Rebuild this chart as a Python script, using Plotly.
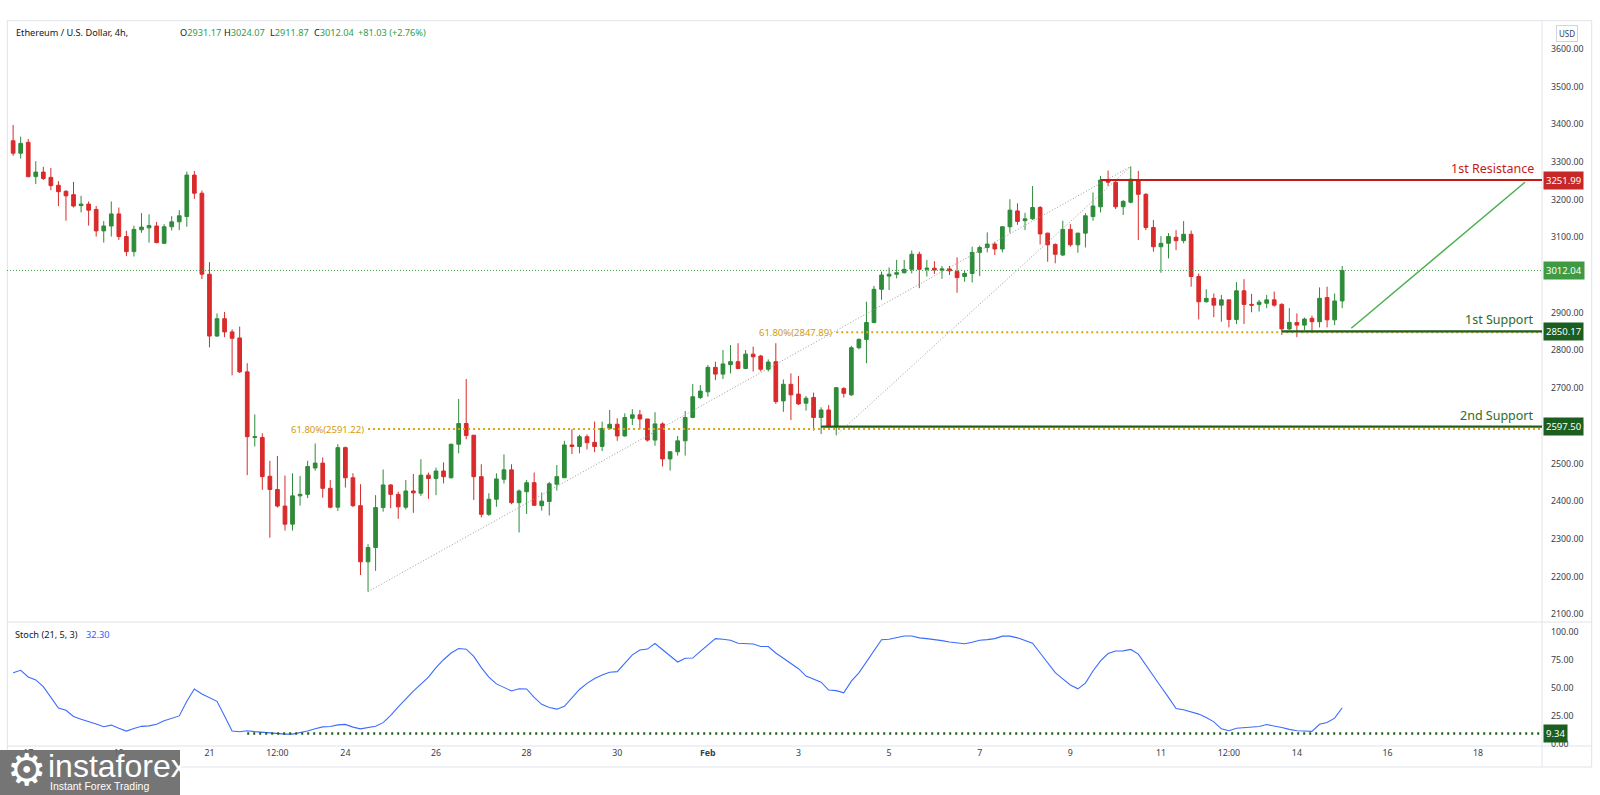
import pandas as pd
import plotly.graph_objects as go

# ---------------- data ----------------
first_candle = "2022-01-16 16:00"   # 4h candles, ETH/USD

opens = [3356, 3323, 3352, 3261, 3273, 3259, 3238, 3222, 3213, 3184,
         3188, 3174, 3117, 3130, 3162, 3102, 3062, 3120, 3125, 3130,
         3084, 3128, 3141, 3155, 3265, 3217, 3002, 2838, 2884, 2849,
         2833, 2743, 2569, 2569, 2466, 2431, 2387, 2339, 2414, 2418,
         2488, 2501, 2434, 2384, 2542, 2462, 2388, 2239, 2277, 2383,
         2443, 2418, 2384, 2427, 2421, 2469, 2460, 2480, 2462, 2551,
         2606, 2575, 2465, 2365, 2405, 2458, 2483, 2396, 2425, 2449,
         2388, 2399, 2445, 2462, 2549, 2545, 2571, 2556, 2545, 2593,
         2604, 2573, 2620, 2629, 2618, 2562, 2605, 2512, 2531, 2560,
         2622, 2675, 2690, 2755, 2737, 2762, 2770, 2752, 2790, 2785,
         2750, 2770, 2666, 2710, 2684, 2660, 2675, 2622, 2642, 2598,
         2699, 2682, 2807, 2829, 2874, 2962, 2997, 3002, 3006, 3015,
         3055, 3015, 3018, 3013, 3016, 3009, 2996, 3004, 3060, 3073,
         3082, 3069, 3128, 3170, 3144, 3149, 3179, 3111, 3081, 3053,
         3121, 3080, 3111, 3155, 3181, 3252, 3246, 3181, 3193, 3252,
         3214, 3126, 3075, 3084, 3100, 3091, 3108, 2996, 2929, 2938,
         2920, 2934, 2882, 2958, 2922, 2922, 2925, 2934, 2922, 2857,
         2874, 2867, 2885, 2876, 2940, 2881, 2931.17]
highs = [3398, 3367, 3361, 3302, 3287, 3284, 3249, 3225, 3247, 3210,
         3195, 3183, 3143, 3195, 3179, 3117, 3131, 3164, 3161, 3141,
         3135, 3156, 3172, 3274, 3276, 3224, 3034, 2898, 2902, 2856,
         2863, 2766, 2630, 2580, 2507, 2520, 2468, 2474, 2467, 2507,
         2553, 2516, 2456, 2551, 2545, 2474, 2445, 2286, 2416, 2484,
         2445, 2425, 2456, 2472, 2511, 2476, 2489, 2503, 2552, 2671,
         2724, 2575, 2498, 2421, 2474, 2524, 2498, 2431, 2456, 2476,
         2423, 2451, 2496, 2560, 2591, 2576, 2577, 2611, 2611, 2642,
         2620, 2633, 2644, 2642, 2618, 2636, 2609, 2533, 2573, 2639,
         2711, 2708, 2761, 2770, 2801, 2814, 2819, 2801, 2810, 2788,
         2776, 2819, 2723, 2739, 2732, 2679, 2688, 2649, 2655, 2703,
         2702, 2812, 2832, 2929, 2971, 3009, 3020, 3040, 3040, 3065,
         3062, 3040, 3037, 3024, 3024, 3047, 3011, 3075, 3078, 3113,
         3088, 3129, 3201, 3190, 3165, 3236, 3183, 3112, 3084, 3144,
         3135, 3112, 3164, 3219, 3263, 3277, 3254, 3199, 3288, 3276,
         3217, 3146, 3103, 3111, 3119, 3143, 3118, 3004, 2962, 2951,
         2947, 2934, 2981, 2989, 2950, 2934, 2947, 2956, 2925, 2912,
         2898, 2887, 2892, 2967, 2969, 2951, 3024.07]
lows = [3316, 3309, 3259, 3241, 3252, 3225, 3183, 3144, 3179, 3166,
        3131, 3102, 3086, 3102, 3093, 3050, 3049, 3112, 3086, 3084,
        3082, 3118, 3119, 3128, 3202, 2989, 2808, 2836, 2835, 2734,
        2740, 2469, 2545, 2430, 2303, 2383, 2322, 2322, 2388, 2408,
        2481, 2409, 2381, 2374, 2436, 2384, 2204, 2160, 2215, 2372,
        2381, 2353, 2378, 2369, 2414, 2406, 2416, 2447, 2460, 2527,
        2564, 2403, 2357, 2361, 2385, 2447, 2392, 2317, 2366, 2388,
        2375, 2362, 2428, 2462, 2525, 2527, 2537, 2530, 2533, 2589,
        2560, 2571, 2602, 2591, 2558, 2547, 2492, 2481, 2521, 2521,
        2620, 2671, 2677, 2721, 2724, 2739, 2750, 2750, 2744, 2744,
        2744, 2658, 2637, 2615, 2655, 2640, 2587, 2578, 2596, 2575,
        2675, 2679, 2803, 2766, 2872, 2934, 2960, 2991, 3004, 3004,
        2965, 2996, 3003, 2990, 3000, 2953, 2982, 2980, 2997, 3060,
        3053, 3060, 3112, 3133, 3119, 3146, 3081, 3035, 3031, 3050,
        3075, 3059, 3073, 3144, 3166, 3236, 3175, 3159, 3190, 3093,
        3119, 3062, 3006, 3044, 3066, 3084, 2969, 2882, 2927, 2888,
        2876, 2861, 2870, 2870, 2901, 2903, 2912, 2916, 2841, 2854,
        2835, 2854, 2850, 2861, 2861, 2867, 2911.87]
closes = [3323, 3349, 3261, 3273, 3256, 3237, 3221, 3210, 3183, 3188,
          3172, 3117, 3130, 3162, 3102, 3062, 3121, 3127, 3131, 3086,
          3128, 3141, 3157, 3265, 3217, 3002, 2838, 2884, 2849, 2832,
          2743, 2571, 2571, 2465, 2431, 2387, 2339, 2414, 2418, 2492,
          2501, 2434, 2384, 2542, 2462, 2388, 2239, 2277, 2383, 2443,
          2418, 2385, 2427, 2422, 2469, 2460, 2480, 2465, 2551, 2606,
          2574, 2465, 2365, 2405, 2459, 2483, 2396, 2427, 2449, 2389,
          2400, 2446, 2465, 2549, 2545, 2571, 2555, 2545, 2593, 2604,
          2573, 2622, 2629, 2618, 2562, 2605, 2512, 2531, 2560, 2622,
          2677, 2692, 2755, 2737, 2764, 2770, 2752, 2790, 2783, 2750,
          2769, 2664, 2710, 2682, 2658, 2673, 2622, 2642, 2598, 2701,
          2686, 2807, 2829, 2874, 2962, 3000, 3002, 3006, 3015, 3055,
          3015, 3018, 3013, 3016, 3011, 2993, 3004, 3060, 3073, 3082,
          3069, 3128, 3172, 3142, 3149, 3179, 3109, 3080, 3055, 3121,
          3080, 3111, 3157, 3183, 3252, 3246, 3181, 3195, 3254, 3214,
          3126, 3075, 3084, 3102, 3091, 3108, 2996, 2929, 2938, 2920,
          2934, 2882, 2958, 2922, 2920, 2928, 2934, 2920, 2857, 2874,
          2867, 2883, 2876, 2938, 2881, 2931, 3012.04]
stoch_k = [63.5, 65.6, 59.7, 57.0, 51.0, 42.0, 32.0, 30.0, 24.5, 22.0,
           20.0, 17.8, 15.3, 16.8, 14.0, 11.5, 13.8, 15.7, 16.1, 17.5,
           20.6, 22.6, 25.0, 38.0, 49.0, 44.5, 41.0, 38.0, 25.0, 11.5,
           10.9, 11.8, 11.0, 10.3, 9.7, 9.2, 8.8, 8.8, 10.0, 11.5,
           13.5, 15.2, 15.5, 17.0, 17.4, 15.0, 13.5, 14.6, 15.7, 19.0,
           25.5, 33.0, 40.5, 47.0, 53.3, 59.5, 68.0, 75.0, 81.0, 85.0,
           84.4, 78.0, 68.0, 59.5, 53.5, 50.0, 47.2, 49.2, 49.0, 41.5,
           35.3, 32.5, 31.0, 33.5, 41.0, 48.5, 54.0, 58.3, 61.5, 63.8,
           64.4, 72.0, 79.4, 83.7, 84.5, 89.5, 84.0, 78.0, 73.0, 76.3,
           76.5, 82.5, 88.5, 93.8, 93.2, 92.4, 89.7, 89.5, 89.0, 86.8,
           86.8, 81.0, 76.5, 72.0, 67.0, 60.5, 58.0, 55.0, 48.0, 47.5,
           45.5, 56.0, 63.3, 73.5, 83.5, 92.8, 93.2, 94.5, 96.2, 96.2,
           94.5, 93.8, 93.2, 92.0, 90.8, 89.8, 89.2, 90.5, 92.3, 92.9,
           93.8, 96.0, 96.0, 94.5, 92.4, 89.8, 81.0, 72.5, 63.5, 58.0,
           52.5, 49.1, 54.2, 65.0, 74.0, 80.5, 82.8, 82.9, 84.2, 80.0,
           70.0, 60.0, 51.0, 41.5, 31.5, 30.4, 28.8, 26.6, 23.5, 19.7,
           13.5, 11.8, 14.0, 14.6, 15.1, 15.6, 17.3, 16.2, 14.6, 13.0,
           11.8, 11.5, 11.2, 17.5, 19.2, 23.0, 32.30]

tick_dates = ["2022-01-17", "2022-01-19", "2022-01-21", "2022-01-22 12:00",
              "2022-01-24", "2022-01-26", "2022-01-28", "2022-01-30",
              "2022-02-01", "2022-02-03", "2022-02-05", "2022-02-07",
              "2022-02-09", "2022-02-11", "2022-02-12 12:00", "2022-02-14",
              "2022-02-16", "2022-02-18"]
tick_labels = ["17", "19", "21", "12:00", "24", "26", "28", "30", "<b>Feb</b>",
               "3", "5", "7", "9", "11", "12:00", "14", "16", "18"]
price_ticks = [2100, 2200, 2300, 2400, 2500, 2600, 2700, 2800, 2900,
               3000, 3100, 3200, 3300, 3400, 3500, 3600]
stoch_ticks = [0, 25, 50, 75, 100]

resistance_1 = 3251.99
support_1 = 2850.17
support_2 = 2597.50
last_price = 3012.04
fib_1 = 2591.22
fib_2 = 2847.89
stoch_level = 9.34
stoch_last = 32.30
header_ohlc = [("O", "2931.17"), ("H", "3024.07"), ("L", "2911.87"), ("C", "3012.04")]
header_change = "+81.03 (+2.76%)"

# candle indices where drawn objects are anchored
res_start_idx = 144
sup1_start_idx = 168
sup2_start_idx = 107
fib1_low_idx = 47
fib2_low_idx = 109
swing_high_idx = 148
stoch_line_start_idx = 31
arrow_from = (177.2, 2858.6)   # (candle index, price)
arrow_to = (200.2, 3246.0)

# ---------------- styling ----------------
UP = "#2e8b3a"
DOWN = "#d92b2b"
RES = "#c41a1a"
SUP = "#1e5e1e"
SUP_TXT = "#2e6b1f"
FIB = "#e0a412"
LAST = "#43a047"
ARROW = "#4caf50"
BLUE = "#3b6cff"
FRAME = "#e0e3eb"
TXT = "#3a3e4a"
FONT = "Noto Sans"
AX_SIZE = 8.8

step = pd.Timedelta(hours=4)
t0 = pd.Timestamp(first_candle)
times = pd.date_range(t0, periods=len(opens), freq="4h")


def tx(idx):
    return t0 + step * idx


x_lo = tx(-0.81)
x_hi = tx(202.46)
p_lo, p_hi = 2079.4, 3673.8
s_lo, s_hi = -1.8, 108.6

# figure geometry (pixels)
W, H = 1600, 795
ML, MR, MT, MB = 7, 58, 21, 49
PW = W - ML - MR
PH = H - MT - MB
split_px = 622
stoch_top = (H - MB - split_px) / PH


def px_x(px):
    return (px - ML) / PW


def px_y(py):
    return (H - MB - py) / PH


fig = go.Figure()
fig.add_trace(go.Candlestick(
    x=times, open=opens, high=highs, low=lows, close=closes,
    xaxis="x", yaxis="y", whiskerwidth=0,
    increasing=dict(line=dict(color=UP, width=1), fillcolor=UP),
    decreasing=dict(line=dict(color=DOWN, width=1), fillcolor=DOWN),
    showlegend=False, hoverinfo="skip"))
fig.add_trace(go.Scatter(
    x=times, y=stoch_k, xaxis="x", yaxis="y2", mode="lines",
    line=dict(color=BLUE, width=1.1), showlegend=False, hoverinfo="skip"))

shapes = []
# pane frame
for (x0, y0, x1, y1) in [
        (px_x(7), px_y(20.7), px_x(1592), px_y(20.7)),
        (px_x(7), px_y(split_px), px_x(1592), px_y(split_px)),
        (px_x(7), px_y(746), px_x(1592), px_y(746)),
        (px_x(7), px_y(767), px_x(1592), px_y(767)),
        (px_x(7.3), px_y(20.7), px_x(7.3), px_y(767)),
        (px_x(1542), px_y(20.7), px_x(1542), px_y(767)),
        (px_x(1591.7), px_y(20.7), px_x(1591.7), px_y(767))]:
    shapes.append(dict(type="line", xref="paper", yref="paper", x0=x0, y0=y0,
                       x1=x1, y1=y1, line=dict(color=FRAME, width=1), layer="below"))

# current price dotted line
shapes.append(dict(type="line", xref="x", yref="y", x0=x_lo, x1=x_hi, y0=last_price,
                   y1=last_price, line=dict(color=LAST, width=1, dash="1px,2px")))
# fib retracement 61.8% levels
shapes.append(dict(type="line", xref="x", yref="y", x0=times[fib1_low_idx], x1=x_hi,
                   y0=fib_1, y1=fib_1, line=dict(color=FIB, width=2, dash="2px,3px")))
shapes.append(dict(type="line", xref="x", yref="y", x0=times[fib2_low_idx], x1=x_hi,
                   y0=fib_2, y1=fib_2, line=dict(color=FIB, width=2, dash="2px,3px")))
# fib trend diagonals
for li in (fib1_low_idx, fib2_low_idx):
    shapes.append(dict(type="line", xref="x", yref="y", x0=times[li], y0=lows[li],
                       x1=times[swing_high_idx], y1=highs[swing_high_idx],
                       line=dict(color="#9a9a9a", width=1, dash="1px,2px")))
# key levels
shapes.append(dict(type="line", xref="x", yref="y", x0=times[res_start_idx], x1=x_hi,
                   y0=resistance_1, y1=resistance_1, line=dict(color=RES, width=2.2)))
shapes.append(dict(type="line", xref="x", yref="y", x0=times[sup1_start_idx], x1=x_hi,
                   y0=support_1, y1=support_1, line=dict(color=SUP, width=2.2)))
shapes.append(dict(type="line", xref="x", yref="y", x0=times[sup2_start_idx], x1=x_hi,
                   y0=support_2, y1=support_2, line=dict(color=SUP, width=2.2)))
# projected move arrow
ax0, ay0 = tx(arrow_from[0]), arrow_from[1]
ax1, ay1 = tx(arrow_to[0]), arrow_to[1]
shapes.append(dict(type="line", xref="x", yref="y", x0=ax0, y0=ay0, x1=ax1, y1=ay1,
                   line=dict(color=ARROW, width=1.5)))
px_per_candle = PW / ((x_hi - x_lo) / step)
price_per_px = (p_hi - p_lo) / (PH * (1 - stoch_top))
leg_t = step * (12 / px_per_candle)
leg_p = 11 * price_per_px
fmt = "%Y-%m-%d %H:%M:%S"
shapes.append(dict(type="path", xref="x", yref="y",
                   path=f"M {(ax1 - leg_t).strftime(fmt)},{ay1} "
                        f"L {ax1.strftime(fmt)},{ay1} "
                        f"L {ax1.strftime(fmt)},{ay1 - leg_p}",
                   line=dict(color=ARROW, width=1.5)))
# stoch oversold marker line
shapes.append(dict(type="line", xref="x", yref="y2", x0=times[stoch_line_start_idx],
                   x1=x_hi, y0=stoch_level, y1=stoch_level,
                   line=dict(color=SUP, width=2.5, dash="2px,4px")))
# instaforex watermark box
shapes.append(dict(type="rect", xref="paper", yref="paper", x0=px_x(0), x1=px_x(180),
                   y0=px_y(750), y1=px_y(795), fillcolor="rgba(105,105,105,0.92)",
                   line=dict(width=0), layer="above"))

ann = []


def axis_label(text, yval, yref, bg):
    ann.append(dict(text=text, xref="paper", x=1, xanchor="left", xshift=1,
                    yref=yref, y=yval, yanchor="middle", showarrow=False,
                    bgcolor=bg, borderpad=2,
                    font=dict(family=FONT, size=9.5, color="white")))


axis_label(f"{resistance_1:.2f}", resistance_1, "y", "#c62828")
axis_label(f"{last_price:.2f}", last_price, "y", "#3f9a43")
axis_label(f"{support_1:.2f}", support_1, "y", "#1b5e20")
axis_label(f"{support_2:.2f}", support_2, "y", "#1b5e20")
axis_label(f"{stoch_level:.2f}", stoch_level, "y2", "#1b5e20")

for txt, yv, col in [("1st Resistance", resistance_1, RES),
                     ("1st Support", support_1, SUP_TXT),
                     ("2nd Support", support_2, SUP_TXT)]:
    ann.append(dict(text=txt, xref="paper", x=1, xanchor="right", xshift=-6,
                    yref="y", y=yv, yanchor="bottom", yshift=1, showarrow=False,
                    font=dict(family=FONT, size=12.5, color=col)))

for li, lvl in [(fib1_low_idx, fib_1), (fib2_low_idx, fib_2)]:
    ann.append(dict(text=f"61.80%({lvl:.2f})", xref="x", x=times[li], xanchor="right",
                    xshift=-2, yref="y", y=lvl, yanchor="middle", showarrow=False,
                    font=dict(family=FONT, size=9.5, color="#d49a0c")))

# header
HSIZE = 9.2
ann.append(dict(text="Ethereum / U.S. Dollar, 4h,", xref="paper", x=px_x(14),
                xanchor="left", yref="paper", y=px_y(32.5), yanchor="middle",
                showarrow=False, font=dict(family=FONT, size=HSIZE, color="#131722")))
hx = [178, 222, 268, 312]
for (lab, val), xp in zip(header_ohlc, hx):
    ann.append(dict(text=f"{lab}<span style='color:#2f9e4a'>{val}</span>", xref="paper",
                    x=px_x(xp), xanchor="left", yref="paper", y=px_y(32.5),
                    yanchor="middle", showarrow=False,
                    font=dict(family=FONT, size=HSIZE, color="#131722")))
ann.append(dict(text=header_change, xref="paper", x=px_x(356), xanchor="left",
                yref="paper", y=px_y(32.5), yanchor="middle", showarrow=False,
                font=dict(family=FONT, size=HSIZE, color="#2f9e4a")))
# stoch legend
ann.append(dict(text="Stoch (21, 5, 3)", xref="paper", x=px_x(13), xanchor="left",
                yref="paper", y=px_y(634), yanchor="middle", showarrow=False,
                font=dict(family=FONT, size=HSIZE, color="#131722")))
ann.append(dict(text=f"{stoch_last:.2f}", xref="paper", x=px_x(84), xanchor="left",
                yref="paper", y=px_y(634), yanchor="middle", showarrow=False,
                font=dict(family=FONT, size=HSIZE, color="#2962ff")))
# currency badge
ann.append(dict(text="USD", xref="paper", x=px_x(1567), xanchor="center",
                yref="paper", y=px_y(33), yanchor="middle", showarrow=False,
                bordercolor="#d1d4dc", borderwidth=1, borderpad=2, bgcolor="white",
                font=dict(family=FONT, size=8, color=TXT)))
# watermark text
ann.append(dict(text="⚙", xref="paper", x=px_x(26), xanchor="center", yref="paper",
                y=px_y(769), yanchor="middle", showarrow=False,
                font=dict(family="DejaVu Sans", size=44, color="white")))
ann.append(dict(text="instaforex", xref="paper", x=px_x(46), xanchor="left",
                yref="paper", y=px_y(766), yanchor="middle", showarrow=False,
                font=dict(family="Liberation Sans", size=32, color="white")))
ann.append(dict(text="Instant Forex Trading", xref="paper", x=px_x(48), xanchor="left",
                yref="paper", y=px_y(786), yanchor="middle", showarrow=False,
                font=dict(family="Liberation Sans", size=10.5, color="white")))

fig.update_layout(
    width=W, height=H,
    margin=dict(l=ML, r=MR, t=MT, b=MB),
    paper_bgcolor="white", plot_bgcolor="white",
    showlegend=False, hovermode=False,
    shapes=shapes, annotations=ann,
    font=dict(family=FONT, size=AX_SIZE, color=TXT),
    xaxis=dict(domain=[0, 1], anchor="y2", range=[x_lo, x_hi], type="date",
               tickvals=[pd.Timestamp(d) for d in tick_dates], ticktext=tick_labels,
               showgrid=False, zeroline=False, showline=False, ticks="",
               rangeslider=dict(visible=False),
               tickfont=dict(family=FONT, size=AX_SIZE, color=TXT)),
    yaxis=dict(domain=[stoch_top, 1], anchor="x", side="right", range=[p_lo, p_hi],
               tickvals=price_ticks, ticktext=[f"{v:.2f}" for v in price_ticks],
               showgrid=False, zeroline=False, showline=False, ticks="",
               ticklabelstandoff=8, tickfont=dict(family=FONT, size=AX_SIZE, color=TXT)),
    yaxis2=dict(domain=[0, stoch_top], anchor="x", side="right", range=[s_lo, s_hi],
                tickvals=stoch_ticks, ticktext=[f"{v:.2f}" for v in stoch_ticks],
                showgrid=False, zeroline=False, showline=False, ticks="",
                ticklabelstandoff=8, tickfont=dict(family=FONT, size=AX_SIZE, color=TXT)),
)

fig.write_html("out.html",
               config={"displayModeBar": False},
               post_script="document.body.style.margin='0';"
                           "document.body.style.overflow='hidden';")
